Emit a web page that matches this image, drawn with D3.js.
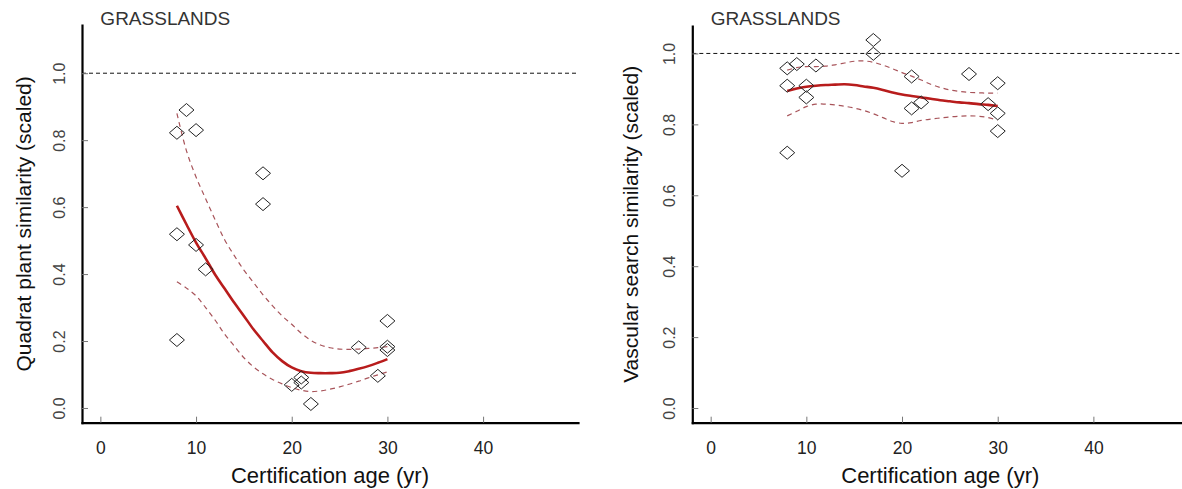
<!DOCTYPE html>
<html>
<head>
<meta charset="utf-8">
<script src="https://cdn.jsdelivr.net/npm/d3@7"></script>
<style>
  body { margin: 0; background: #fff; }
  svg text { font-family: "Liberation Sans", Arial, sans-serif; }
</style>
</head>
<body>
<div id="chart"></div>
<script>
// ---- data ----
const ageTicks = [0, 10, 20, 30, 40];
const simTicks = [0, 0.2, 0.4, 0.6, 0.8, 1.0];
const simTickLabels = ["0.0", "0.2", "0.4", "0.6", "0.8", "1.0"];

// quadrat plant similarity (left)
const quadratAge = [9, 8, 10, 17, 17, 8, 10, 11, 8, 30, 27, 30, 30, 29, 20, 21, 21, 22];
const quadratSim = [0.890, 0.822, 0.830, 0.701, 0.609, 0.519, 0.487, 0.414, 0.203, 0.260, 0.181, 0.183, 0.173, 0.096, 0.069, 0.091, 0.076, 0.012];

// vascular search similarity (right)
const vascularAge = [17, 17, 8, 9, 11, 8, 10, 10, 8, 21, 21, 22, 20, 27, 29, 30, 30, 30];
const vascularSim = [1.038, 0.999, 0.958, 0.970, 0.966, 0.909, 0.909, 0.876, 0.720, 0.935, 0.845, 0.862, 0.669, 0.942, 0.857, 0.916, 0.831, 0.781];

// fitted curves with confidence bands
const fitAge = [8, 9, 10, 11, 12, 13, 14, 15, 16, 17, 18, 19, 20, 21, 22, 23, 24, 25, 26, 27, 28, 29, 30];
const quadratFit   = [0.604, 0.548, 0.494, 0.447, 0.398, 0.356, 0.314, 0.275, 0.235, 0.200, 0.166, 0.140, 0.121, 0.110, 0.105, 0.104, 0.104, 0.105, 0.110, 0.117, 0.125, 0.135, 0.146];
const quadratUpper = [0.880, 0.768, 0.690, 0.625, 0.562, 0.502, 0.455, 0.412, 0.375, 0.338, 0.305, 0.275, 0.250, 0.223, 0.202, 0.188, 0.180, 0.176, 0.175, 0.176, 0.178, 0.180, 0.183];
const quadratLower = [0.377, 0.358, 0.335, 0.300, 0.262, 0.220, 0.185, 0.150, 0.123, 0.102, 0.085, 0.072, 0.061, 0.053, 0.049, 0.051, 0.056, 0.063, 0.071, 0.080, 0.090, 0.099, 0.108];
const vascularFit   = [0.894, 0.901, 0.906, 0.909, 0.911, 0.912, 0.913, 0.911, 0.907, 0.903, 0.897, 0.890, 0.884, 0.880, 0.876, 0.872, 0.868, 0.865, 0.862, 0.860, 0.857, 0.855, 0.852];
const vascularUpper = [0.953, 0.960, 0.963, 0.963, 0.964, 0.968, 0.973, 0.978, 0.979, 0.975, 0.967, 0.957, 0.946, 0.936, 0.925, 0.913, 0.904, 0.897, 0.893, 0.890, 0.889, 0.888, 0.888];
const vascularLower = [0.824, 0.837, 0.850, 0.857, 0.857, 0.855, 0.851, 0.846, 0.839, 0.830, 0.819, 0.808, 0.803, 0.805, 0.811, 0.815, 0.818, 0.821, 0.823, 0.824, 0.823, 0.819, 0.812];

const W = 1182, H = 489;
const svg = d3.select("#chart").append("svg")
  .attr("width", W).attr("height", H)
  .style("background", "#fff");

function drawPanel(p) {
  const x = d3.scaleLinear().domain([-1.92, 49.92]).range([p.left, p.left + 496]);
  const y = d3.scaleLinear().domain(p.yDomain).range([422.7, p.top]);
  const g = svg.append("g");

  // reference line at 1.0
  g.append("line")
    .attr("x1", x.range()[0]).attr("x2", x.range()[1])
    .attr("y1", y(1)).attr("y2", y(1))
    .attr("stroke", "#111").attr("stroke-width", 1)
    .attr("stroke-dasharray", "4,3");

  // x axis
  const xAxis = g.append("g")
    .attr("transform", `translate(0,${y.range()[0]})`)
    .call(d3.axisBottom(x).tickValues(ageTicks).tickSizeInner(-6).tickSizeOuter(0));
  xAxis.select(".domain").attr("stroke", "#000").attr("stroke-width", 2.2).attr("stroke-linecap", "square");
  xAxis.selectAll(".tick line").attr("stroke", "#777");
  xAxis.selectAll(".tick text")
    .attr("y", 31.5).attr("dy", 0)
    .style("font-size", "17.5px").attr("fill", "#222");

  // y axis
  const yAxis = g.append("g")
    .attr("transform", `translate(${x.range()[0]},0)`)
    .call(d3.axisLeft(y).tickValues(simTicks).tickFormat((d, i) => simTickLabels[i]).tickSizeInner(-6).tickSizeOuter(0));
  yAxis.select(".domain").attr("stroke", "#000").attr("stroke-width", 2.2).attr("stroke-linecap", "square");
  yAxis.selectAll(".tick line").attr("stroke", "#777");
  yAxis.selectAll(".tick text")
    .attr("transform", "rotate(-90)")
    .attr("x", 0).attr("y", -17.5).attr("dy", 0)
    .attr("text-anchor", "middle")
    .style("font-size", "16px").attr("fill", "#444");

  // titles
  g.append("text")
    .attr("x", x(0)).attr("y", 24.5)
    .style("font-size", "19px").attr("fill", "#333")
    .text("GRASSLANDS");

  g.append("text")
    .attr("x", (x.range()[0] + x.range()[1]) / 2).attr("y", 483)
    .attr("text-anchor", "middle")
    .style("font-size", "22px").attr("fill", "#111")
    .text("Certification age (yr)");

  g.append("text")
    .attr("transform", `translate(${x.range()[0] - p.titleOff},${(y.range()[0] + y.range()[1]) / 2}) rotate(-90)`)
    .attr("text-anchor", "middle")
    .style("font-size", "21px").attr("fill", "#111")
    .text(p.yTitle);

  // fitted curve and bands
  const line = d3.line()
    .x((d, i) => x(fitAge[i]))
    .y(d => y(d))
    .curve(d3.curveCatmullRom);

  [p.upper, p.lower].forEach(band => {
    g.append("path").datum(band)
      .attr("d", line)
      .attr("fill", "none")
      .attr("stroke", "#a8545a").attr("stroke-width", 1.2)
      .attr("stroke-dasharray", "5,4");
  });
  g.append("path").datum(p.fit)
    .attr("d", line)
    .attr("fill", "none")
    .attr("stroke", "#b81c1c").attr("stroke-width", 2.6);

  // diamonds
  g.selectAll("path.pt")
    .data(p.age.map((a, i) => [a, p.sim[i]]))
    .join("path")
    .attr("class", "pt")
    .attr("transform", d => `translate(${x(d[0])},${y(d[1])})`)
    .attr("d", "M0,-6.5L7.5,0L0,6.5L-7.5,0Z")
    .attr("fill", "none")
    .attr("stroke", "#222").attr("stroke-width", 1);
}

drawPanel({
  left: 82, top: 25, yDomain: [-0.044, 1.144], titleOff: 51,
  yTitle: "Quadrat plant similarity (scaled)",
  age: quadratAge, sim: quadratSim,
  fit: quadratFit, upper: quadratUpper, lower: quadratLower
});

drawPanel({
  left: 692.3, top: 26, yDomain: [-0.0414, 1.0774], titleOff: 54,
  yTitle: "Vascular search similarity (scaled)",
  age: vascularAge, sim: vascularSim,
  fit: vascularFit, upper: vascularUpper, lower: vascularLower
});
</script>
</body>
</html>
